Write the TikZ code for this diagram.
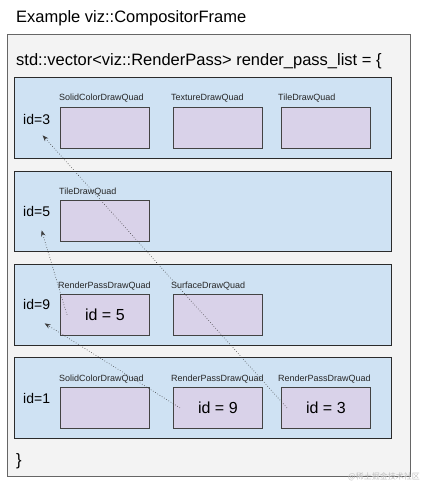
\documentclass[tikz,border=0pt]{standalone}
\usepackage{fontspec}
\setmainfont{Liberation Sans}
\newfontfamily\cjk{Noto Sans CJK SC}
\usetikzlibrary{arrows.meta,calc}
\definecolor{framefill}{HTML}{F3F3F3}
\definecolor{frameline}{HTML}{666666}
\definecolor{passfill}{HTML}{CFE2F3}
\definecolor{passline}{HTML}{2B2B2B}
\definecolor{quadfill}{HTML}{D9D2E9}
\definecolor{quadline}{HTML}{434343}
\definecolor{arrowline}{HTML}{3C3C3C}
\begin{document}
\begin{tikzpicture}[x=1pt,y=-1pt,
  framebox/.style={draw=frameline,fill=framefill,line width=1pt,inner sep=0pt,anchor=north west},
  passbox/.style={draw=passline,fill=passfill,line width=0.8pt,inner sep=0pt,anchor=north west,minimum width=377pt,minimum height=81pt},
  quadbox/.style={draw=quadline,fill=quadfill,line width=0.8pt,inner sep=0pt,anchor=north west,minimum width=89pt,minimum height=41pt,font=\fontsize{16}{18}\selectfont},
  quadlabel/.style={anchor=base west,inner sep=0pt,font=\fontsize{9}{10}\selectfont,text=black!85},
  idlabel/.style={anchor=west,inner sep=0pt,font=\fontsize{14}{16}\selectfont},
  bigtext/.style={anchor=west,inner sep=0pt,font=\fontsize{16.5}{19}\selectfont},
  ref/.style={draw=arrowline,dotted,line width=0.6pt,-{Stealth[length=6pt,width=4.5pt]}}]
\useasboundingbox (0,0) rectangle (422,484);
\node[bigtext] (title) at (16,18) {Example viz::CompositorFrame};
\node[framebox,minimum width=403pt,minimum height=442pt] (frame) at (7,34) {};
\node[bigtext] (vec) at (16,61) {std::vector<viz::RenderPass> render\_pass\_list = \{};
\node[bigtext] (close) at (16,461) {\}};
% passes
\node[passbox] (p1) at (14,77) {};
\node[passbox,minimum height=80pt] (p2) at (14,171) {};
\node[passbox] (p3) at (14,264) {};
\node[passbox] (p4) at (14,357) {};
% id labels
\node[idlabel] (id3) at (23,119) {id=3};
\node[idlabel] (id5) at (23,211) {id=5};
\node[idlabel] (id9) at (23,304) {id=9};
\node[idlabel] (id1) at (23,398) {id=1};
% quads pass 1
\node[quadbox] (q11) at (60,107) {};
\node[quadbox] (q12) at (173,107) {};
\node[quadbox] (q13) at (281,107) {};
% pass 2
\node[quadbox] (q21) at (60,200) {};
% pass 3
\node[quadbox] (q31) at (60,294) {id = 5};
\node[quadbox] (q32) at (173,294) {};
% pass 4
\node[quadbox] (q41) at (60,387) {};
\node[quadbox] (q42) at (173,387) {id = 9};
\node[quadbox] (q43) at (281,387) {id = 3};
% quad labels
\node[quadlabel] (l11) at ($(q11.north west)+(-1,-6)$) {SolidColorDrawQuad};
\node[quadlabel] (l12) at ($(q12.north west)+(-2,-6)$) {TextureDrawQuad};
\node[quadlabel] (l13) at ($(q13.north west)+(-3,-6)$) {TileDrawQuad};
\node[quadlabel] (l21) at ($(q21.north west)+(-1,-6)$) {TileDrawQuad};
\node[quadlabel] (l31) at ($(q31.north west)+(-2,-6)$) {RenderPassDrawQuad};
\node[quadlabel] (l32) at ($(q32.north west)+(-2,-6)$) {SurfaceDrawQuad};
\node[quadlabel] (l41) at ($(q41.north west)+(-1,-6)$) {SolidColorDrawQuad};
\node[quadlabel] (l42) at ($(q42.north west)+(-2,-6)$) {RenderPassDrawQuad};
\node[quadlabel] (l43) at ($(q43.north west)+(-3,-6)$) {RenderPassDrawQuad};
% connector ends
\coordinate (s3) at ($(q43.west)+(6,0)$);
\coordinate (e3) at ($(id3.south)+(6,11)$);
\coordinate (s9) at ($(q42.west)+(7,0)$);
\coordinate (e9) at ($(id9.south)+(8,14)$);
\coordinate (s5) at ($(q31.west)+(7,0)$);
\coordinate (e5) at ($(id5.south)+(5,14)$);
\draw[ref] (s3) -- (e3);
\draw[ref] (s9) -- (e9);
\draw[ref] (s5) -- (e5);
\node[anchor=south east,inner sep=0pt,font=\cjk\fontsize{8}{9}\selectfont,text=black!25] (wm) at (420,481) {@稀土掘金技术社区};
\end{tikzpicture}
\end{document}
